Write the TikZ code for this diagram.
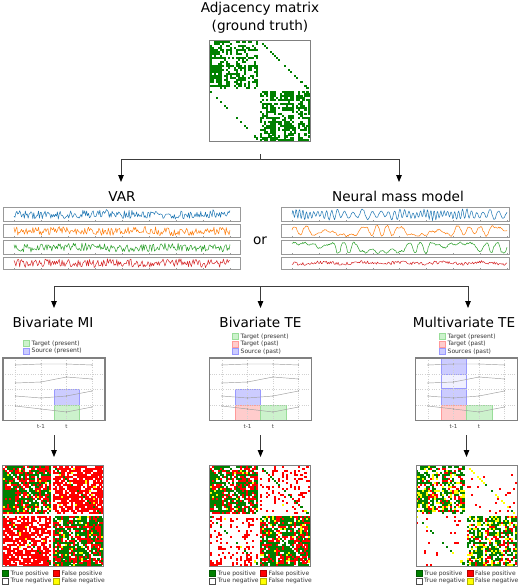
\documentclass[tikz,border=0pt]{standalone}
\usepackage{fontspec}
\setmainfont{DejaVu Sans}
\usetikzlibrary{arrows.meta}
\definecolor{tsblue}{HTML}{1F77B4}
\definecolor{tsorange}{HTML}{FF7F0E}
\definecolor{tsgreen}{HTML}{2CA02C}
\definecolor{tsred}{HTML}{D62728}
\definecolor{tp}{HTML}{008000}
\definecolor{fp}{HTML}{FF0000}
\definecolor{fn}{HTML}{FFFF00}
\definecolor{framegray}{HTML}{808080}
\definecolor{arrowgray}{HTML}{3C3C3C}
\definecolor{hlgreen}{HTML}{CCF2CC}
\definecolor{hlgreenedge}{HTML}{99DD99}
\definecolor{hlred}{HTML}{FFCCCC}
\definecolor{hlrededge}{HTML}{FF9999}
\definecolor{hlblue}{HTML}{CCCCFF}
\definecolor{hlblueedge}{HTML}{9999FF}
\definecolor{hlbluefaint}{HTML}{F0F0FF}
\definecolor{dgray}{HTML}{999999}
\tikzset{
  titletext/.style={anchor=base, font=\fontsize{13.6}{15}\selectfont, inner sep=0pt},
  legtext/.style={anchor=west, font=\fontsize{6}{7}\selectfont, text=black!80, inner sep=0pt},
  ticktext/.style={anchor=base, font=\fontsize{5.5}{6}\selectfont, text=black!75, inner sep=0pt},
  flowline/.style={draw=arrowgray, line width=0.8pt},
  flowarrow/.style={draw=arrowgray, line width=0.8pt, -{Triangle[width=5.5pt,length=7pt,color=black]}},
  tsframe/.style={draw=dgray, line width=0.8pt},
  tsline/.style={line width=0.5pt, line join=round},
  matframe/.style={draw=framegray, line width=0.8pt},
  plotframe/.style={draw=framegray, line width=1.1pt},
  gridline/.style={draw=black!18, line width=0.3pt, dotted},
  dataline/.style={draw=black!38, line width=0.45pt},
  datadot/.style={fill=black!45},
  hlg/.style={fill=hlgreen, draw=hlgreenedge, line width=0.5pt},
  hlr/.style={fill=hlred, draw=hlrededge, line width=0.5pt},
  hlb/.style={fill=hlblue, draw=hlblueedge, line width=0.5pt},
  hlbf/.style={fill=hlbluefaint, draw=hlblueedge, line width=0.5pt},
  legsq/.style={line width=0.5pt},
}
\newcommand\plotcontent{%
  \foreach \gx in {12.5,38,63.5,89} \draw[gridline] (\gx,0) -- (\gx,62.5);
  \foreach \gy in {16,31,47} \draw[gridline] (0,\gy) -- (102,\gy);
  \draw[dataline] (12.5,7) -- (38,6) -- (63.5,6) -- (89,7);
  \draw[dataline] (12.5,25) -- (38,24) -- (63.5,19) -- (89,21);
  \draw[dataline] (12.5,38) -- (38,40) -- (63.5,38) -- (89,33);
  \draw[dataline] (12.5,48) -- (38,51) -- (63.5,54) -- (89,49);
  \foreach \px/\py in {12.5/7,38/6,63.5/6,89/7,12.5/25,38/24,63.5/19,89/21,12.5/38,38/40,63.5/38,89/33,12.5/48,38/51,63.5/54,89/49}
    \fill[datadot] (\px,\py) circle (0.6);
}
\begin{document}
\begin{tikzpicture}[x=1pt,y=-1pt]
\useasboundingbox (0,0) rectangle (520,586);
\fill[white] (0,0) rectangle (520,586);

% ---------- ground truth generation ----------
\pgfmathsetseed{11}
\foreach \k in {0,...,49}{%
  \pgfmathsetmacro\va{0.25+0.75*rnd}\expandafter\xdef\csname rf\k\endcsname{\va}%
  \pgfmathsetmacro\vb{0.2+0.8*rnd}\expandafter\xdef\csname cf\k\endcsname{\vb}%
  \pgfmathsetmacro\vc{rnd}\expandafter\xdef\csname rg\k\endcsname{\vc}%
  \pgfmathsetmacro\vd{rnd}\expandafter\xdef\csname cg\k\endcsname{\vd}%
}
\pgfmathsetseed{5}
\foreach \i in {0,...,49}{\foreach \j in {0,...,49}{%
  \edef\mrf{\csname rf\i\endcsname}\edef\mcf{\csname cf\j\endcsname}%
  \pgfmathsetmacro\mr{rnd}%
  \pgfmathtruncatemacro\mt{((\i==\j)||(\i==24)||(\j==24)) ? 0 : (((\i<25)==(\j<25)) ? (\mr<1.6*\mrf*\mcf) : ((abs(\i-\j)==25) ? (\mr<0.5) : 0))}%
  \expandafter\xdef\csname gt\i-\j\endcsname{\mt}%
}}

% ---------- titles ----------
\node[titletext] (adjtitle) at (260,13) {Adjacency matrix};
\node[titletext] (adjtitle2) at (260,31) {(ground truth)};

% ---------- adjacency matrix ----------
\foreach \i in {0,...,49}{\foreach \j in {0,...,49}{%
  \ifnum\csname gt\i-\j\endcsname=1 \fill[tp] ({209.5+2.02*\j},{40.5+2.02*\i}) rectangle ++(2.1,2.1);\fi}}
\draw[matframe] (209.5,40.5) rectangle (310.5,141.5);

% ---------- first split ----------
\coordinate (adjb) at (260,154);
\coordinate (junc1) at (260,159);
\coordinate (varin) at (121,182);
\coordinate (nmmin) at (399,182);
\draw[flowline] (adjb) -- (junc1);
\draw[flowarrow] (junc1) -| (varin);
\draw[flowarrow] (junc1) -| (nmmin);

\node[titletext] (vartitle) at (122,201) {VAR};
\node[titletext] (nmmtitle) at (398,201) {Neural mass model};
\node[titletext] (ortext) at (260,244) {or};

% ---------- time series boxes ----------
\foreach \yt/\yb in {207.5/221,224/237.5,240.5/254,257/269.5}{%
  \draw[tsframe] (3,\yt) rectangle (240,\yb);
  \draw[tsframe] (281,\yt) rectangle (509,\yb);
  \foreach \tk in {0,...,8}{%
    \draw[draw=dgray,line width=0.4pt] ({14+27*\tk},\yb) -- ++(0,-1.3);
    \draw[draw=dgray,line width=0.4pt] ({292+26.9*\tk},\yb) -- ++(0,-1.3);}
}
\pgfmathsetseed{3}
% VAR
\draw[tsline,tsblue] plot[samples=230, domain=0:216] ({14+\x}, {214.5 + 4.2*rand + 0.8*sin(3*\x)});
\draw[tsline,tsorange] plot[samples=230, domain=0:216] ({14+\x}, {231 + 4.2*rand + 0.6*sin(5*\x)});
\draw[tsline,tsgreen] plot[samples=230, domain=0:216] ({14+\x}, {247.5 + 4.0*rand + 0.6*sin(4*\x)});
\draw[tsline,tsred] plot[samples=230, domain=0:216] ({14+\x}, {263 + 4.2*rand + 0.5*sin(6*\x)});
% neural mass model
\draw[tsline,tsblue] plot[samples=330, domain=0:215] ({292+\x}, {214.5 - (7.4+2.2*sin(11*\x))*sin(36*\x + 420*sin(2.5*\x))*cos(36*\x + 420*sin(2.5*\x)) - 1.0*sin(17*\x) + 0.6*rand});
\draw[tsline,tsorange] plot[samples=260, domain=0:215] ({292+\x}, {235.2 - 8.4*min(1,1.15*(0.5+0.5*sin(15*\x + 300*sin(4*\x)))) + 1.0*sin(41*\x) + 0.8*rand});
\draw[tsline,tsgreen] plot[samples=260, domain=0:215] ({292+\x}, {243.6 + 8.4*min(1,1.15*(0.5+0.5*sin(13*\x + 250*cos(5*\x))))^2 - 1.0*sin(37*\x) + 0.8*rand});
\draw[tsline,tsred] plot[samples=220, domain=0:215] ({292+\x}, {263 + 1.6*rand + 0.9*sin(9*\x)});

% ---------- second split ----------
\coordinate (junc2) at (260.5,286);
\coordinate (junc2l) at (54,286);
\coordinate (junc2r) at (468,286);
\coordinate (miin) at (54,308);
\coordinate (tein) at (260.5,308);
\coordinate (mtein) at (468,308);
\draw[flowline] (junc2l) -- (junc2r);
\draw[flowarrow] (junc2) -| (miin);
\draw[flowarrow] (junc2) -- (tein);
\draw[flowarrow] (junc2) -| (mtein);

\node[titletext] (mititle) at (53,327) {Bivariate MI};
\node[titletext] (tetitle) at (260.5,327) {Bivariate TE};
\node[titletext] (mtetitle) at (464,327) {Multivariate TE};

% ---------- legends of small plots ----------
\fill[hlg] (23,340.5) rectangle ++(6,6);
\node[legtext] (milg1) at (31.5,343.5) {Target (present)};
\fill[hlb] (23,348) rectangle ++(6,6);
\node[legtext] (milg2) at (31.5,351) {Source (present)};

\fill[hlg] (232,333.5) rectangle ++(6,6);
\node[legtext] (telg1) at (240.5,336.5) {Target (present)};
\fill[hlr] (232,341) rectangle ++(6,6);
\node[legtext] (telg2) at (240.5,344) {Target (past)};
\fill[hlb] (232,348.5) rectangle ++(6,6);
\node[legtext] (telg3) at (240.5,351.5) {Source (past)};

\fill[hlg] (439,333.5) rectangle ++(6,6);
\node[legtext] (mtelg1) at (447.5,336.5) {Target (present)};
\fill[hlr] (439,341) rectangle ++(6,6);
\node[legtext] (mtelg2) at (447.5,344) {Target (past)};
\fill[hlb] (439,348.5) rectangle ++(6,6);
\node[legtext] (mtelg3) at (447.5,351.5) {Sources (past)};

% ---------- small plots ----------
\begin{scope}[shift={(3,358)}]
  \fill[hlb] (50.75,31) rectangle (76.25,47);
  \fill[hlg] (50.75,47) rectangle (76.25,62.5);
  \plotcontent
  \draw[plotframe] (0,0) rectangle (102,62.5);
  \node[ticktext] (mit1) at (38,70) {t-1};
  \node[ticktext] (mit2) at (63.5,70) {t};
\end{scope}
\begin{scope}[shift={(209.5,358)}]
  \fill[hlb] (25.25,31) rectangle (50.75,47);
  \fill[hlr] (25.25,47) rectangle (50.75,62.5);
  \fill[hlg] (50.75,47) rectangle (76.25,62.5);
  \plotcontent
  \draw[plotframe] (0,0) rectangle (102,62.5);
  \node[ticktext] (tet1) at (38,70) {t-1};
  \node[ticktext] (tet2) at (63.5,70) {t};
\end{scope}
\begin{scope}[shift={(415.5,358)}]
  \fill[hlb] (25.25,0) rectangle (50.75,16);
  \fill[hlbf] (25.25,16) rectangle (50.75,30);
  \fill[hlb] (25.25,30) rectangle (50.75,47);
  \fill[hlr] (25.25,47) rectangle (50.75,62.5);
  \fill[hlg] (50.75,47) rectangle (76.25,62.5);
  \plotcontent
  \draw[plotframe] (0,0) rectangle (102,62.5);
  \node[ticktext] (mtet1) at (38,70) {t-1};
  \node[ticktext] (mtet2) at (63.5,70) {t};
\end{scope}

% ---------- arrows to result matrices ----------
\coordinate (mibot) at (54,435);
\coordinate (tebot) at (260.5,435);
\coordinate (mtebot) at (466.5,435);
\coordinate (mires) at (54,457);
\coordinate (teres) at (260.5,457);
\coordinate (mteres) at (466.5,457);
\draw[flowarrow] (mibot) -- (mires);
\draw[flowarrow] (tebot) -- (teres);
\draw[flowarrow] (mtebot) -- (mteres);

% ---------- result matrices ----------
% MI
\pgfmathsetseed{21}
\foreach \i in {0,...,49}{\foreach \j in {0,...,49}{%
  \edef\mtv{\csname gt\i-\j\endcsname}%
  \pgfmathsetmacro\mr{rnd}%
  \pgfmathtruncatemacro\mc{((\i==\j)||(\i==24)||(\j==24)) ? 0 : ((\mtv==1) ? ((\mr<0.94) ? 1 : 3) : (((\i<25)==(\j<25)) ? ((\mr<0.72) ? 2 : ((\mr>0.985) ? 3 : 0)) : ((\mr<0.7) ? 2 : ((\mr>0.99) ? 3 : 0))))}%
  \ifcase\mc\relax\or
    \fill[tp] ({2.5+2.02*\j},{465.5+2.02*\i}) rectangle ++(2.1,2.1);\or
    \fill[fp] ({2.5+2.02*\j},{465.5+2.02*\i}) rectangle ++(2.1,2.1);\or
    \fill[fn] ({2.5+2.02*\j},{465.5+2.02*\i}) rectangle ++(2.1,2.1);\fi
}}
\draw[matframe] (2.5,465.5) rectangle (103.5,566.5);
% TE
\pgfmathsetseed{33}
\foreach \i in {0,...,49}{\foreach \j in {0,...,49}{%
  \edef\mtv{\csname gt\i-\j\endcsname}\edef\mrg{\csname rg\i\endcsname}\edef\mcg{\csname cg\j\endcsname}%
  \pgfmathsetmacro\mr{rnd}%
  \pgfmathtruncatemacro\mc{((\i==\j)||(\i==24)||(\j==24)) ? 0 : ((\mtv==1) ? ((\mr<0.92) ? 1 : 3) : (((\i<25)==(\j<25)) ? ((\mr<0.66) ? 2 : 0) : ((\mr<0.8*\mcg*(0.2+0.8*\mrg)) ? 2 : ((\mr>0.995) ? 3 : 0))))}%
  \ifcase\mc\relax\or
    \fill[tp] ({209.5+2.02*\j},{465.5+2.02*\i}) rectangle ++(2.1,2.1);\or
    \fill[fp] ({209.5+2.02*\j},{465.5+2.02*\i}) rectangle ++(2.1,2.1);\or
    \fill[fn] ({209.5+2.02*\j},{465.5+2.02*\i}) rectangle ++(2.1,2.1);\fi
}}
\draw[matframe] (209.5,465.5) rectangle (310.5,566.5);
% MTE
\pgfmathsetseed{47}
\foreach \i in {0,...,49}{\foreach \j in {0,...,49}{%
  \edef\mtv{\csname gt\i-\j\endcsname}%
  \pgfmathsetmacro\mr{rnd}%
  \pgfmathtruncatemacro\mc{((\i==\j)||(\i==24)||(\j==24)) ? 0 : ((\mtv==1) ? (((\i<25)==(\j<25)) ? ((\mr<0.74) ? 1 : 3) : ((\mr<0.35) ? 1 : 3)) : (((\i<25)==(\j<25)) ? ((\mr<0.28) ? 2 : 0) : ((\mr<0.03) ? 2 : 0)))}%
  \ifcase\mc\relax\or
    \fill[tp] ({416+2.02*\j},{465.5+2.02*\i}) rectangle ++(2.1,2.1);\or
    \fill[fp] ({416+2.02*\j},{465.5+2.02*\i}) rectangle ++(2.1,2.1);\or
    \fill[fn] ({416+2.02*\j},{465.5+2.02*\i}) rectangle ++(2.1,2.1);\fi
}}
\draw[matframe] (416,465.5) rectangle (517,566.5);

% ---------- bottom legends ----------
\foreach \lx/\nm in {2.5/mi,209.5/te,416/mte}{%
  \filldraw[legsq, fill=tp, draw=tp!70!black] (\lx,570.5) rectangle ++(6,6);
  \node[legtext] (\nm tp) at (\lx+8,573.5) {True positive};
  \filldraw[legsq, fill=white, draw=black!70] (\lx,578) rectangle ++(6,6);
  \node[legtext] (\nm tn) at (\lx+8,581) {True negative};
  \filldraw[legsq, fill=fp, draw=fp!70!black] (\lx+51,570.5) rectangle ++(6,6);
  \node[legtext] (\nm fp) at (\lx+59,573.5) {False positive};
  \filldraw[legsq, fill=fn, draw=fn!70!black] (\lx+51,578) rectangle ++(6,6);
  \node[legtext] (\nm fn) at (\lx+59,581) {False negative};
}
\end{tikzpicture}
\end{document}
